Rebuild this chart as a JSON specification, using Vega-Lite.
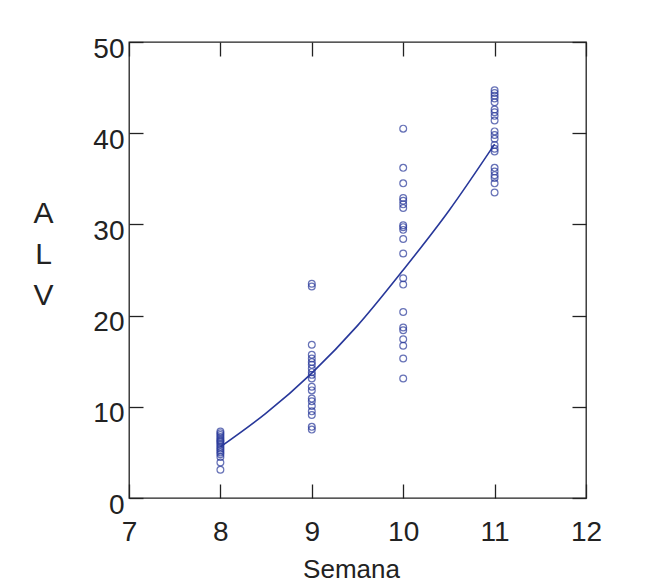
{
  "$schema": "https://vega.github.io/schema/vega-lite/v6.json",
  "width": 457,
  "height": 456,
  "autosize": {"type": "none"},
  "padding": {"left": 129, "top": 42, "right": 65, "bottom": 89},
  "background": "white",
  "config": {
    "view": {"stroke": "#222222", "strokeWidth": 1.3},
    "font": "Liberation Sans",
    "axis": {"grid": false, "domain": false, "tickColor": "#222222", "tickWidth": 1.3, "labelColor": "#222222", "titleColor": "#222222", "labelFont": "Liberation Sans", "titleFont": "Liberation Sans", "titleFontWeight": "normal"}
  },
  "datasets": {
    "pts": [
      {"semana": 8, "alv": 7.3}, {"semana": 8, "alv": 7.1}, {"semana": 8, "alv": 6.9}, {"semana": 8, "alv": 6.7}, {"semana": 8, "alv": 6.5},
      {"semana": 8, "alv": 6.3}, {"semana": 8, "alv": 6.2}, {"semana": 8, "alv": 6.0}, {"semana": 8, "alv": 5.8}, {"semana": 8, "alv": 5.6},
      {"semana": 8, "alv": 5.4}, {"semana": 8, "alv": 5.2}, {"semana": 8, "alv": 5.0}, {"semana": 8, "alv": 4.8}, {"semana": 8, "alv": 4.5},
      {"semana": 8, "alv": 3.9}, {"semana": 8, "alv": 3.1},
      {"semana": 9, "alv": 23.5}, {"semana": 9, "alv": 23.2}, {"semana": 9, "alv": 16.8}, {"semana": 9, "alv": 15.7}, {"semana": 9, "alv": 15.3},
      {"semana": 9, "alv": 14.9}, {"semana": 9, "alv": 14.6}, {"semana": 9, "alv": 14.2}, {"semana": 9, "alv": 13.8}, {"semana": 9, "alv": 13.5},
      {"semana": 9, "alv": 13.1}, {"semana": 9, "alv": 12.2}, {"semana": 9, "alv": 11.8}, {"semana": 9, "alv": 10.9}, {"semana": 9, "alv": 10.6},
      {"semana": 9, "alv": 10.1}, {"semana": 9, "alv": 9.5}, {"semana": 9, "alv": 9.1}, {"semana": 9, "alv": 7.8}, {"semana": 9, "alv": 7.5},
      {"semana": 10, "alv": 40.5}, {"semana": 10, "alv": 36.2}, {"semana": 10, "alv": 34.5}, {"semana": 10, "alv": 32.9}, {"semana": 10, "alv": 32.6},
      {"semana": 10, "alv": 32.2}, {"semana": 10, "alv": 31.8}, {"semana": 10, "alv": 29.9}, {"semana": 10, "alv": 29.7}, {"semana": 10, "alv": 29.4},
      {"semana": 10, "alv": 28.4}, {"semana": 10, "alv": 26.8}, {"semana": 10, "alv": 24.1}, {"semana": 10, "alv": 23.4}, {"semana": 10, "alv": 20.4},
      {"semana": 10, "alv": 18.7}, {"semana": 10, "alv": 18.4}, {"semana": 10, "alv": 17.4}, {"semana": 10, "alv": 16.7}, {"semana": 10, "alv": 15.3},
      {"semana": 10, "alv": 13.1},
      {"semana": 11, "alv": 44.7}, {"semana": 11, "alv": 44.4}, {"semana": 11, "alv": 44.1}, {"semana": 11, "alv": 43.8}, {"semana": 11, "alv": 43.4},
      {"semana": 11, "alv": 42.6}, {"semana": 11, "alv": 42.3}, {"semana": 11, "alv": 41.9}, {"semana": 11, "alv": 41.4}, {"semana": 11, "alv": 40.2},
      {"semana": 11, "alv": 39.8}, {"semana": 11, "alv": 39.4}, {"semana": 11, "alv": 38.7}, {"semana": 11, "alv": 38.3}, {"semana": 11, "alv": 38.0},
      {"semana": 11, "alv": 36.2}, {"semana": 11, "alv": 35.8}, {"semana": 11, "alv": 35.4}, {"semana": 11, "alv": 35.1}, {"semana": 11, "alv": 34.5},
      {"semana": 11, "alv": 33.5}
    ],
    "fit": [
      {"semana": 8, "alv": 5.6}, {"semana": 8.5, "alv": 9.3}, {"semana": 9, "alv": 13.7}, {"semana": 9.5, "alv": 18.9},
      {"semana": 10, "alv": 25.0}, {"semana": 10.5, "alv": 31.5}, {"semana": 11, "alv": 38.8}
    ]
  },
  "layer": [
    {
      "data": {"name": "pts"},
      "mark": {"type": "point", "shape": "circle", "filled": false, "color": "#28389a", "strokeWidth": 1.2, "size": 46},
      "encoding": {
        "x": {"field": "semana", "type": "quantitative", "scale": {"domain": [7, 12], "nice": false, "zero": false},
          "axis": {"orient": "bottom", "values": [7, 8, 9, 10, 11, 12], "tickSize": -14, "labelPadding": 56, "labelBaseline": "alphabetic", "labelFontSize": 28, "labelFlush": false,
            "title": "Semana", "titleFontSize": 26, "titleX": 222, "titleY": 79.5, "titleBaseline": "alphabetic", "titleAlign": "center"}},
        "y": {"field": "alv", "type": "quantitative", "scale": {"domain": [0, 50], "nice": false, "zero": true},
          "axis": {"orient": "left", "values": [0, 10, 20, 30, 40, 50], "tickSize": -14, "labelPadding": 19, "labelOffset": 7, "labelBaseline": "middle", "labelFontSize": 28, "labelFlush": false,
            "title": ["A", "L", "V"], "titleAngle": 0, "titleFontSize": 30, "titleLineHeight": 41, "titleX": -86, "titleY": 171, "titleAlign": "center", "titleBaseline": "middle"}}
      }
    },
    {
      "data": {"name": "fit"},
      "mark": {"type": "line", "color": "#28389a", "strokeWidth": 1.6, "interpolate": "monotone"},
      "encoding": {
        "x": {"field": "semana", "type": "quantitative",
          "axis": {"orient": "top", "values": [7, 8, 9, 10, 11, 12], "tickSize": -14, "labels": false, "title": null}},
        "y": {"field": "alv", "type": "quantitative",
          "axis": {"orient": "right", "values": [0, 10, 20, 30, 40, 50], "tickSize": -14, "labels": false, "title": null}}
      }
    }
  ],
  "resolve": {"axis": {"x": "independent", "y": "independent"}}
}
